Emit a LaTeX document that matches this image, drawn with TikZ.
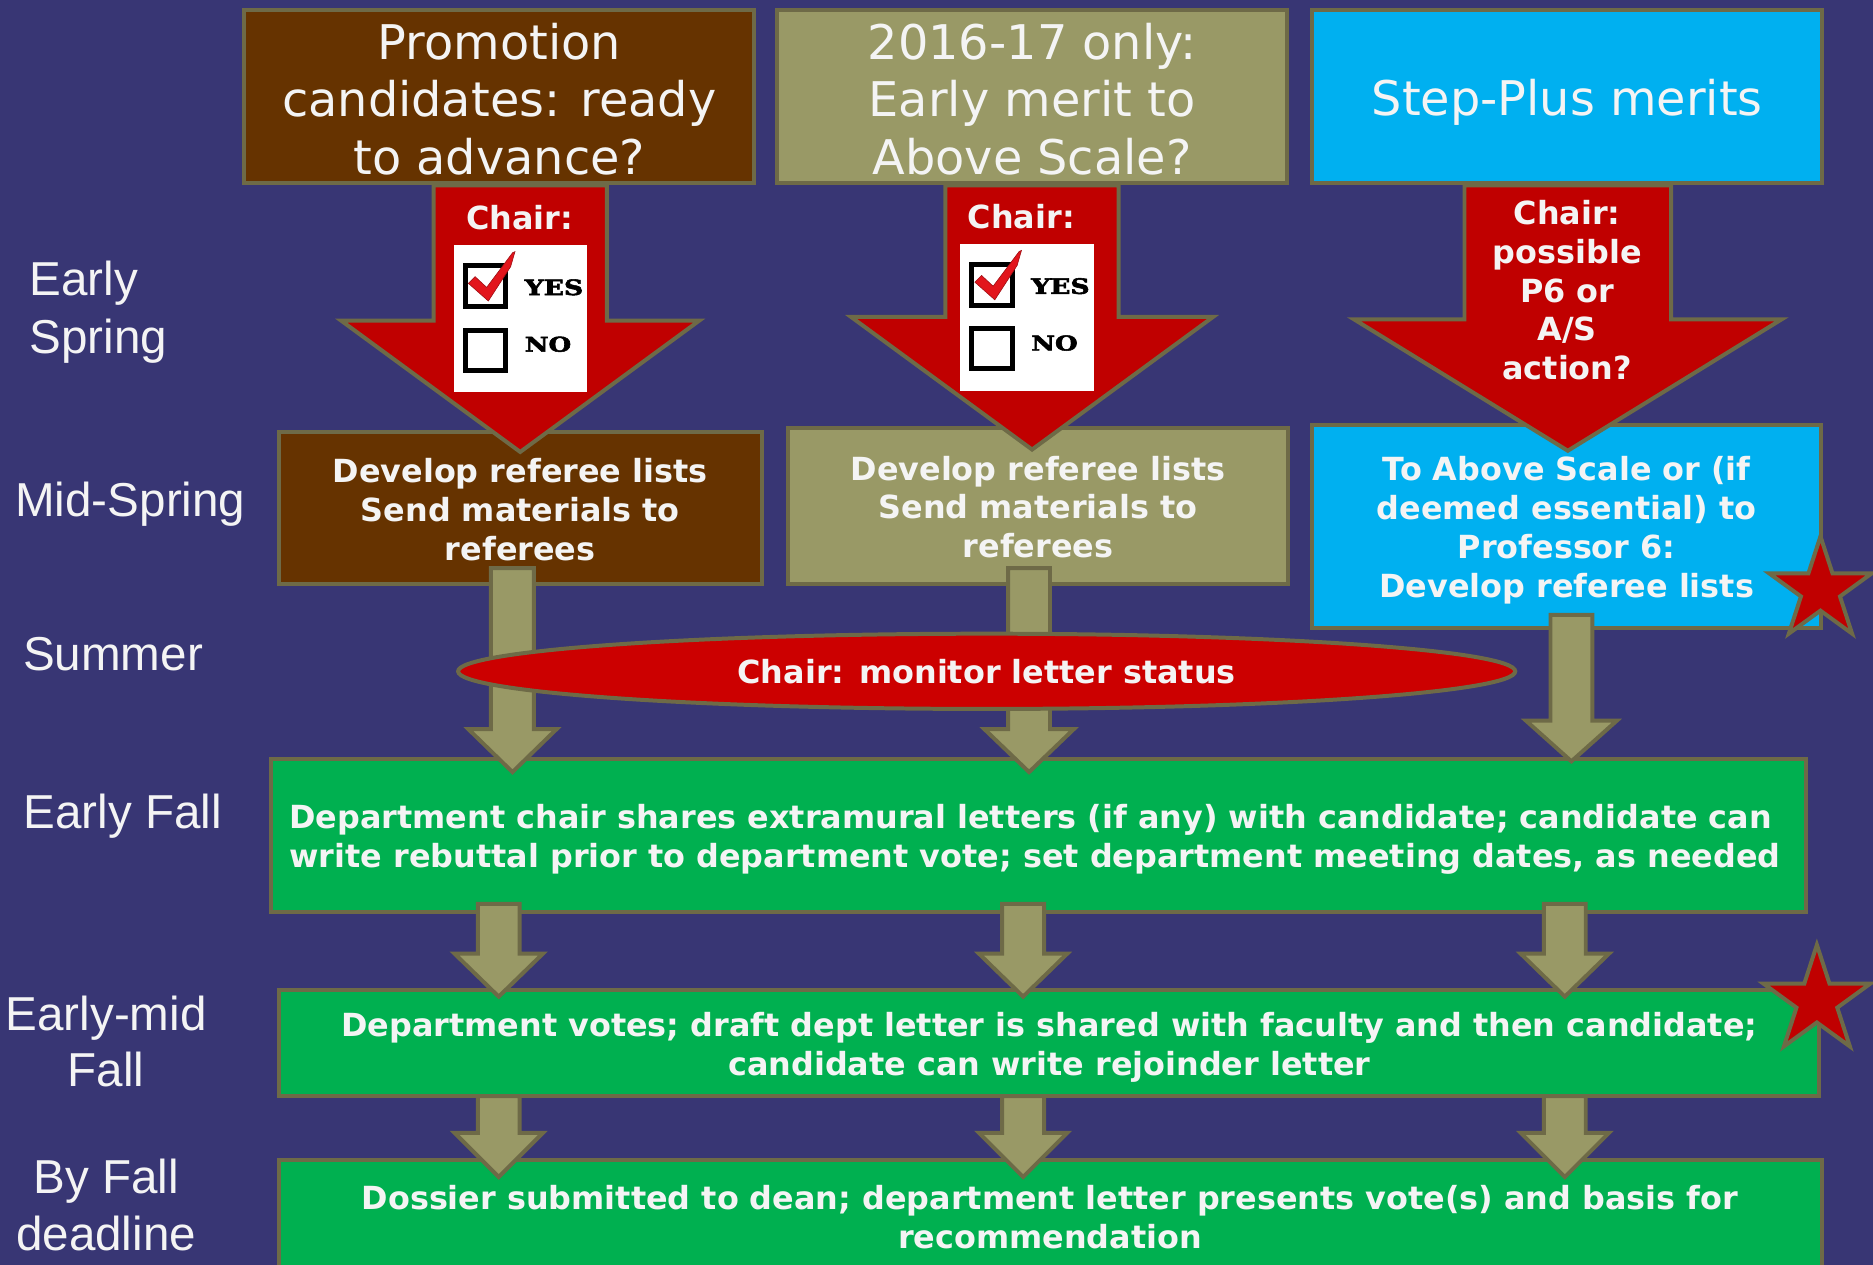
\documentclass[tikz,border=0pt]{standalone}
\usepackage{fontspec}
\usepackage{graphicx}
\setmainfont{DejaVu Sans}
\newfontfamily\lblfont{Liberation Sans}
\newfontfamily\slabfont{DejaVu Serif}[BoldFeatures={FakeBold=2.5}]
\usetikzlibrary{calc,shapes.geometric}

\definecolor{bg}{HTML}{383674}
\definecolor{bord}{HTML}{6E6A47}
\definecolor{brownf}{HTML}{663300}
\definecolor{olivef}{HTML}{999966}
\definecolor{cyanf}{HTML}{00B0F0}
\definecolor{redf}{HTML}{C00000}
\definecolor{ellred}{HTML}{CC0000}
\definecolor{greenf}{HTML}{00B050}
\definecolor{txt}{HTML}{F4F4F4}
\definecolor{tick}{HTML}{E2151C}

\newcommand\unitpx{0.6pt}
% #1 style, #2 start (only y used), #3 tip, #4 shaft half width, #5 head half width, #6 head length
\newcommand\blockarrow[6][]{%
  \path[#1] let \p1=(#2), \p2=(#3) in
    (\x2-#4*\unitpx,\y1) -- (\x2+#4*\unitpx,\y1) -- (\x2+#4*\unitpx,\y2+#6*\unitpx)
    -- (\x2+#5*\unitpx,\y2+#6*\unitpx) -- (\x2,\y2) -- (\x2-#5*\unitpx,\y2+#6*\unitpx)
    -- (\x2-#4*\unitpx,\y2+#6*\unitpx) -- cycle;}
% star around a named coordinate
\newcommand\redstar[2]{%
  \path[starst] (#1) +(-90:#2) -- +(-54:0.382*#2) -- +(-18:#2) -- +(18:0.382*#2)
    -- +(54:#2) -- +(90:0.382*#2) -- +(126:#2) -- +(162:0.382*#2) -- +(198:#2)
    -- +(234:0.382*#2) -- cycle;}
% check box picture
\newcommand\chkimg[1]{%
  \begin{scope}[shift={(#1.north west)}]
    \draw[black, line width=2.5pt] (9.9,17.4) rectangle (44,51.5);
    \draw[black, line width=2.5pt] (9.9,71.3) rectangle (44,104.8);
    \filldraw[fill=tick, draw=tick!70!black, line width=0.3pt]
      (12.6,32.1) -- (18.2,26.5) -- (27.9,35.5) -- (49.7,6.4) -- (51.6,5.6)
      -- (48,18.1) -- (29.3,46.9) -- cycle;
    \node[anchor=base west, inner sep=0pt] (#1y) at (59.5,41.9)
      {\resizebox{29.3pt}{7.9pt}{\slabfont\bfseries YES}};
    \node[anchor=base west, inner sep=0pt] (#1n) at (59.5,89.3)
      {\resizebox{23.3pt}{7.6pt}{\slabfont\bfseries NO}};
  \end{scope}}

\begin{document}
\begin{tikzpicture}[x=0.6pt,y=-0.6pt,
  box/.style 2 args={draw=bord, line width=2pt, minimum width=#1*0.6pt,
    minimum height=#2*0.6pt, inner sep=0pt},
  toptxt/.style={text=txt, font=\fontsize{24pt}{28.8pt}\selectfont, align=center, inner sep=0pt},
  bt/.style={text=txt, font=\bfseries\fontsize{16pt}{19.5pt}\selectfont, align=center, inner sep=0pt},
  lbl/.style={text=txt, font=\lblfont\fontsize{23.9pt}{28pt}\selectfont, inner sep=0pt},
  redarrow/.style={fill=redf, draw=bord, line width=2pt},
  olarrow/.style={fill=olivef, draw=bord, line width=2pt},
  starst/.style={fill=redf, draw=bord, line width=2pt},
  chk/.style={fill=white, inner sep=0pt, minimum width=111.7*0.6pt,
    minimum height=122.8*0.6pt, anchor=north west}]

\useasboundingbox (0,0) rectangle (1568,1059);
\clip (0,0) rectangle (1568,1059);
\fill[bg] (0,0) rectangle (1568,1059);

% left time labels
\node[lbl, anchor=base west] (l1a) at (24.5,247) {Early};
\node[lbl, anchor=base west] (l1b) at (24.5,295.7) {Spring};
\node[lbl, anchor=base west] (l2) at (12.5,432.5) {Mid-Spring};
\node[lbl, anchor=base west] (l3) at (19,561) {Summer};
\node[lbl, anchor=base west] (l4) at (19.5,693.5) {Early Fall};
\node[lbl, anchor=base] (l5a) at (88.8,862.8) {Early-mid};
\node[lbl, anchor=base] (l5b) at (88.8,909.7) {Fall};
\node[lbl, anchor=base] (l6a) at (88.8,999) {By Fall};
\node[lbl, anchor=base] (l6b) at (88.8,1046.5) {deadline};

% top boxes
\node[box={427}{145}, fill=brownf] (p1) at (418,81) {};
\node[box={427}{145}, fill=olivef] (p2) at (864,81) {};
\node[box={427}{145}, fill=cyanf] (p3) at (1312,81) {};
\node[toptxt] (p1t) at ($(p1)+(0,2)$) {Promotion\\candidates: ready\\to advance?};
\node[toptxt] (p2t) at ($(p2)+(0,2)$) {2016-17 only:\\Early merit to\\Above Scale?};
\node[toptxt] (p3t) at ($(p3)+(0,5)$) {Step-Plus merits};

% second-row boxes (shapes)
\node[box={404}{127}, fill=brownf] (d1) at (435.5,425) {};
\node[box={419}{130}, fill=olivef] (d2) at (869,423.5) {};
\node[box={426}{170}, fill=cyanf] (d3) at (1311.5,440.5) {};

% red decision arrows
\blockarrow[redarrow]{p1.south}{$(d1.north)+(0,18.5)$}{72.5}{150}{110}
\blockarrow[redarrow]{p2.south}{$(d2.north)+(-5,19.5)$}{72.5}{151.5}{111}
\blockarrow[redarrow]{p3.south}{$(d3.north)+(1,23.5)$}{86.5}{179}{110}

% check box pictures
\node[chk] (cb1) at (379.5,205.1) {};
\chkimg{cb1}
\node[chk] (cb2) at (803.5,204.1) {};
\chkimg{cb2}

\node[bt] (ch1) at (435,182) {Chair:};
\node[bt] (ch2) at (855,181) {Chair:};
\node[bt] (ch3) at (1312,243) {Chair:\\possible\\P6 or\\A/S\\action?};

% second-row texts
\node[bt] (d1t) at ($(d1)+(0,1.5)$) {Develop referee lists\\Send materials to\\referees};
\node[bt] (d2t) at ($(d2)+(0,1)$) {Develop referee lists\\Send materials to\\referees};
\node[bt] (d3t) at ($(d3)+(0,3.5)$) {To Above Scale or (if\\deemed essential) to\\Professor 6:\\Develop referee lists};

\coordinate (s1c) at (1524,494);
\redstar{s1c}{45}

% green boxes
\node[box={1285}{128}, fill=greenf] (ef) at (869,699.5) {};
\node[box={1289}{89}, fill=greenf] (emf) at (878,873) {};
\node[box={1292}{120}, fill=greenf] (dfd) at (879.5,1031.5) {};

\node[bt, anchor=west, align=left] (eft) at (242,702.5) {Department chair shares extramural letters (if any) with candidate; candidate can\\write rebuttal prior to department vote; set department meeting dates, as needed};
\node[bt] (emft) at (878.5,877) {Department votes; draft dept letter is shared with faculty and then candidate;\\candidate can write rejoinder letter};
\node[bt] (dfdt) at (879,1019) {Dossier submitted to dean; department letter presents vote(s) and basis for\\recommendation};

% olive flow arrows, row 1
\blockarrow[olarrow]{$(d1.south)+(0,-14.5)$}{$(ef.north -| d1.south)+(-6.5,12.5)$}{18}{37}{36}
\blockarrow[olarrow]{$(d2.south)+(0,-14.5)$}{$(ef.north -| d2.south)+(-7.5,12.5)$}{17.5}{37.5}{36}
\blockarrow[olarrow]{$(d3.south)+(0,-12.5)$}{$(ef.north -| d3.south)+(4,3.5)$}{17.5}{38}{34}

% row 2
\blockarrow[olarrow]{$(ef.south)+(0,-8.5)$}{$(emf.north -| d1.south)+(-18,7.5)$}{17.5}{37}{36}
\blockarrow[olarrow]{$(ef.south)+(0,-8.5)$}{$(emf.north -| d2.south)+(-12.5,7.5)$}{17.5}{37}{36}
\blockarrow[olarrow]{$(ef.south)+(0,-8.5)$}{$(emf.north -| d3.south)+(-1.5,7.5)$}{17.5}{37}{36}

% row 3
\blockarrow[olarrow]{$(emf.south)+(0,-1.5)$}{$(dfd.north -| d1.south)+(-18,15.5)$}{17.5}{37}{37}
\blockarrow[olarrow]{$(emf.south)+(0,-1.5)$}{$(dfd.north -| d2.south)+(-12.5,15.5)$}{17.5}{37}{37}
\blockarrow[olarrow]{$(emf.south)+(0,-1.5)$}{$(dfd.north -| d3.south)+(-1.5,15.5)$}{17.5}{37}{37}

% summer ellipse
\node[ellipse, draw=bord, line width=2pt, fill=ellred, minimum width=885*0.6pt,
  minimum height=63*0.6pt, bt] (el) at (826,562) {Chair: monitor letter status};

\coordinate (s2c) at (1521,838);
\redstar{s2c}{47}
\end{tikzpicture}
\end{document}
